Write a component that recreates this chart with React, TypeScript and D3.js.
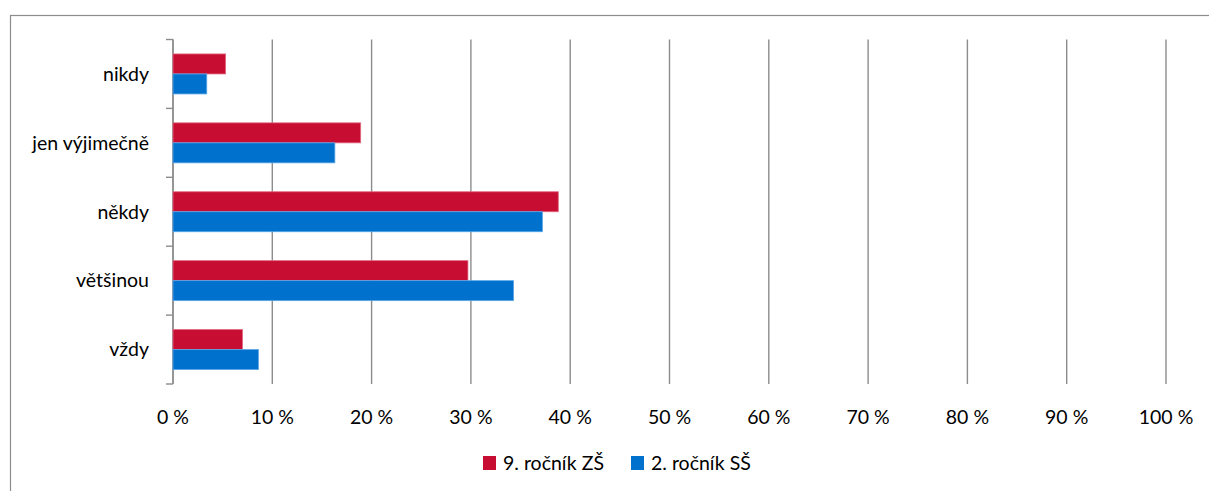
import React from "react";
import * as d3 from "d3";

const categories = ["nikdy", "jen výjimečně", "někdy", "většinou", "vždy"];
const seriesNames = ["9. ročník ZŠ", "2. ročník SŠ"];
const zs9 = [5.3, 18.9, 38.8, 29.7, 7.0];
const ss2 = [3.4, 16.3, 37.2, 34.3, 8.6];
const xTicks = [0, 10, 20, 30, 40, 50, 60, 70, 80, 90, 100];
const colors = ["#C80D32", "#0072CE"];
const strokes = ["#E06A80", "#5AA6E8"];

export default function App() {
  const W = 1209, H = 491;
  const left = 173, right = 1166, top = 39.5, bottom = 384;
  const x = d3.scaleLinear().domain([0, 100]).range([left, right]);
  const y = d3.scaleBand().domain(categories).range([top, bottom]);
  const inner = d3.scaleBand().domain(seriesNames).range([0, 40]);
  const font = "Lato, 'Open Sans', sans-serif";
  const fs = 19.5;
  const series = [zs9, ss2];
  return (
    <svg width={W} height={H} style={{ position: "absolute", left: 0, top: 0, background: "#fff" }} fontFamily={font}>
      <rect x={10.5} y={15.5} width={W + 10} height={H + 10} fill="#fff" stroke="#8c8c8c" strokeWidth={1.2} />
      {xTicks.map((t) => (
        <line key={t} x1={x(t)} x2={x(t)} y1={top} y2={bottom} stroke="#8c8c8c" strokeWidth={1.4} />
      ))}
      <line x1={left} x2={left} y1={top} y2={bottom} stroke="#8c8c8c" strokeWidth={1.4} />
      {[...categories.map((c) => y(c)!), bottom].map((v, i) => (
        <line key={i} x1={left - 7} x2={left} y1={v} y2={v} stroke="#8c8c8c" strokeWidth={1.4} />
      ))}
      {categories.map((c, ci) =>
        series.map((s, si) => {
          const y0 = y(c)! + (y.bandwidth() - 40) / 2 + inner(seriesNames[si])!;
          return (
            <rect key={c + si} x={x(0)} y={y0} width={x(s[ci]) - x(0)} height={inner.bandwidth()}
              fill={colors[si]} stroke={strokes[si]} strokeWidth={0.8} />
          );
        })
      )}
      {categories.map((c) => (
        <text key={c} x={149} y={y(c)! + y.bandwidth() / 2} dy="0.35em" textAnchor="end" fontSize={fs} fill="#000">
          {c}
        </text>
      ))}
      {xTicks.map((t) => (
        <text key={t} x={x(t)} y={424} textAnchor="middle" fontSize={fs} fill="#000">
          {t + " %"}
        </text>
      ))}
      {seriesNames.map((n, i) => {
        const lx = [483, 631][i];
        return (
          <g key={n}>
            <rect x={lx} y={456} width={13} height={14} fill={colors[i]} />
            <text x={lx + 20} y={470} fontSize={fs} fill="#000">{n}</text>
          </g>
        );
      })}
    </svg>
  );
}
